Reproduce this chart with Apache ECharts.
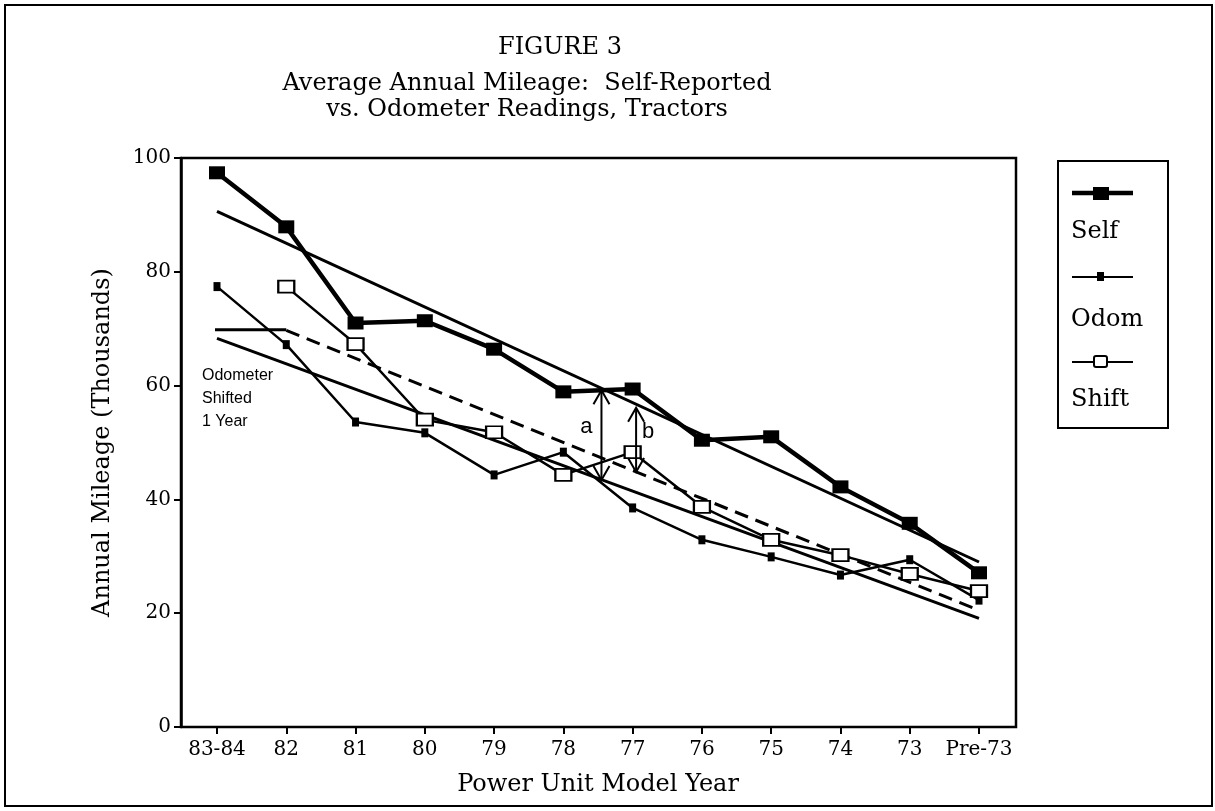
<!DOCTYPE html>
<html>
<head>
<meta charset="utf-8">
<title>Figure 3</title>
<script src="https://cdn.jsdelivr.net/npm/echarts@6/dist/echarts.min.js"></script>
<style>
  html, body { margin: 0; background: #fff; }
  #main { width: 1215px; height: 811px; }
</style>
</head>
<body>
<div id="main"></div>
<script>
// model years, newest first
const years = ["83-84", "82", "81", "80", "79", "78", "77", "76", "75", "74", "73", "Pre-73"];

// average annual mileage, thousands
const selfMiles = [97.4, 87.9, 71.0, 71.4, 66.4, 58.9, 59.4, 50.4, 51.0, 42.2, 35.8, 27.1];
const odomMiles = [77.4, 67.2, 53.6, 51.7, 44.3, 48.3, 38.5, 32.9, 29.9, 26.7, 29.4, 22.3];
const shiftMiles = [null, 77.4, 67.3, 54.0, 51.8, 44.3, 48.3, 38.7, 32.9, 30.2, 26.9, 23.9];

// fitted lines, [year index, mileage]
const selfTrend = [[0, 90.6], [11, 29.0]];
const odomTrend = [[0, 68.3], [11, 19.1]];
const shiftTrend = [[1, 69.7], [11, 20.5]];
const shiftLead = [[-0.2, 69.8], [1, 69.8]];

// gap arrows: [year index, low, high, label]
const gaps = [[5.55, 43.4, 59.2, "a"], [6.05, 44.8, 56.1, "b"]];

const serif = "DejaVu Serif";
const sans = "Liberation Sans";

const pts = arr => arr.map((v, i) => [i, v]).filter(p => p[1] != null);

const chart = echarts.init(document.getElementById("main"));

const option = {
  animation: false,
  backgroundColor: "#fff",
  grid: [
    { left: 181, right: 199, top: 158, bottom: 84, show: true, borderColor: "#000", borderWidth: 2.5 },
    { left: 217, right: 236, top: 158, bottom: 84 }
  ],
  xAxis: [
    { gridIndex: 0, type: "value", min: 0, max: 1, show: false },
    {
      gridIndex: 1, type: "value", min: 0, max: 11, interval: 1,
      axisLine: { show: false },
      axisTick: { show: true, length: 7, lineStyle: { color: "#000", width: 2 } },
      axisLabel: {
        color: "#000", fontFamily: serif, fontSize: 20, margin: 13,
        formatter: v => years[v] || ""
      },
      splitLine: { show: false },
      name: "Power Unit Model Year",
      nameLocation: "middle",
      nameGap: 46,
      nameTextStyle: { color: "#000", fontFamily: serif, fontSize: 24 }
    }
  ],
  yAxis: [
    {
      gridIndex: 0, type: "value", min: 0, max: 100, interval: 20,
      axisLine: { show: true, lineStyle: { color: "#000", width: 2.5 } },
      axisTick: { show: true, length: 7, lineStyle: { color: "#000", width: 2 } },
      axisLabel: { color: "#000", fontFamily: serif, fontSize: 20, margin: 10 },
      splitLine: { show: false },
      name: "Annual Mileage (Thousands)",
      nameLocation: "middle",
      nameGap: 66,
      nameTextStyle: { color: "#000", fontFamily: serif, fontSize: 24 }
    },
    { gridIndex: 1, type: "value", min: 0, max: 100, show: false }
  ],
  series: [
    {
      name: "SelfTrend", type: "line", xAxisIndex: 1, yAxisIndex: 1,
      data: selfTrend, symbol: "none", silent: true,
      lineStyle: { color: "#000", width: 3 }, z: 2
    },
    {
      name: "OdomTrend", type: "line", xAxisIndex: 1, yAxisIndex: 1,
      data: odomTrend, symbol: "none", silent: true,
      lineStyle: { color: "#000", width: 3 }, z: 2
    },
    {
      name: "ShiftLead", type: "line", xAxisIndex: 1, yAxisIndex: 1,
      data: shiftLead, symbol: "none", silent: true, clip: false,
      lineStyle: { color: "#000", width: 3 }, z: 2
    },
    {
      name: "ShiftTrend", type: "line", xAxisIndex: 1, yAxisIndex: 1,
      data: shiftTrend, symbol: "none", silent: true,
      lineStyle: { color: "#000", width: 3, type: [14, 8] }, z: 2
    },
    {
      name: "Odom", type: "line", xAxisIndex: 1, yAxisIndex: 1,
      data: pts(odomMiles), symbol: "rect", symbolSize: [7, 9],
      lineStyle: { color: "#000", width: 2.5 },
      itemStyle: { color: "#000" }, z: 3
    },
    {
      name: "Shift", type: "line", xAxisIndex: 1, yAxisIndex: 1,
      data: pts(shiftMiles), symbol: "rect", symbolSize: [16, 12],
      lineStyle: { color: "#000", width: 2.5 },
      itemStyle: { color: "#fff", borderColor: "#000", borderWidth: 2 }, z: 4
    },
    {
      name: "Self", type: "line", xAxisIndex: 1, yAxisIndex: 1,
      data: pts(selfMiles), symbol: "rect", symbolSize: [16, 13],
      lineStyle: { color: "#000", width: 4.5 },
      itemStyle: { color: "#000" }, z: 5
    },
    {
      name: "Gaps", type: "custom", xAxisIndex: 1, yAxisIndex: 1,
      data: gaps.map(g => [g[0], g[1], g[2]]), silent: true, z: 6,
      renderItem: (params, api) => {
        const x = api.value(0);
        const lo = api.coord([x, api.value(1)]);
        const hi = api.coord([x, api.value(2)]);
        const hw = 8, hl = 14;
        const st = { stroke: "#000", lineWidth: 2, fill: null };
        const dx = params.dataIndex === 0 ? -15 : 12;
        return {
          type: "group",
          children: [
            { type: "line", shape: { x1: lo[0], y1: lo[1], x2: hi[0], y2: hi[1] }, style: st },
            { type: "polyline", shape: { points: [[hi[0] - hw, hi[1] + hl], hi, [hi[0] + hw, hi[1] + hl]] }, style: st },
            { type: "polyline", shape: { points: [[lo[0] - hw, lo[1] - hl], lo, [lo[0] + hw, lo[1] - hl]] }, style: st },
            {
              type: "text",
              style: {
                text: gaps[params.dataIndex][3],
                x: lo[0] + dx, y: (lo[1] + hi[1]) / 2 - 8,
                fontFamily: sans, fontSize: 22, fill: "#000",
                align: "center", verticalAlign: "middle"
              }
            }
          ]
        };
      }
    }
  ],
  graphic: [
    // figure frame
    { type: "rect", shape: { x: 5, y: 5, width: 1207, height: 801 }, style: { fill: null, stroke: "#000", lineWidth: 2 }, silent: true },
    // title
    { type: "text", x: 560, y: 48, style: { text: "FIGURE 3", font: "24px " + serif, fill: "#000", align: "center", verticalAlign: "middle" } },
    { type: "text", x: 527, y: 84, style: { text: "Average Annual Mileage:  Self-Reported", font: "24px " + serif, fill: "#000", align: "center", verticalAlign: "middle" } },
    { type: "text", x: 527, y: 110, style: { text: "vs. Odometer Readings, Tractors", font: "24px " + serif, fill: "#000", align: "center", verticalAlign: "middle" } },
    // note
    { type: "text", x: 202, y: 364, style: { text: "Odometer\nShifted\n1 Year", font: "16px " + sans, lineHeight: 23, fill: "#000", align: "left", verticalAlign: "top" } },
    // legend
    { type: "rect", shape: { x: 1058, y: 161, width: 110, height: 267 }, style: { fill: "#fff", stroke: "#000", lineWidth: 2 } },
    { type: "line", shape: { x1: 1072, y1: 193, x2: 1133, y2: 193 }, style: { stroke: "#000", lineWidth: 4.5 } },
    { type: "rect", shape: { x: 1093, y: 187, width: 16, height: 13 }, style: { fill: "#000" } },
    { type: "text", x: 1071, y: 232, style: { text: "Self", font: "24px " + serif, fill: "#000", verticalAlign: "middle" } },
    { type: "line", shape: { x1: 1072, y1: 277, x2: 1133, y2: 277 }, style: { stroke: "#000", lineWidth: 2 } },
    { type: "rect", shape: { x: 1097, y: 272, width: 7, height: 9 }, style: { fill: "#000" } },
    { type: "text", x: 1071, y: 320, style: { text: "Odom", font: "24px " + serif, fill: "#000", verticalAlign: "middle" } },
    { type: "line", shape: { x1: 1072, y1: 362, x2: 1133, y2: 362 }, style: { stroke: "#000", lineWidth: 2 } },
    { type: "rect", shape: { x: 1094, y: 356, width: 13, height: 11, r: 2 }, style: { fill: "#fff", stroke: "#000", lineWidth: 2 } },
    { type: "text", x: 1071, y: 400, style: { text: "Shift", font: "24px " + serif, fill: "#000", verticalAlign: "middle" } }
  ]
};

chart.setOption(option);
</script>
</body>
</html>
